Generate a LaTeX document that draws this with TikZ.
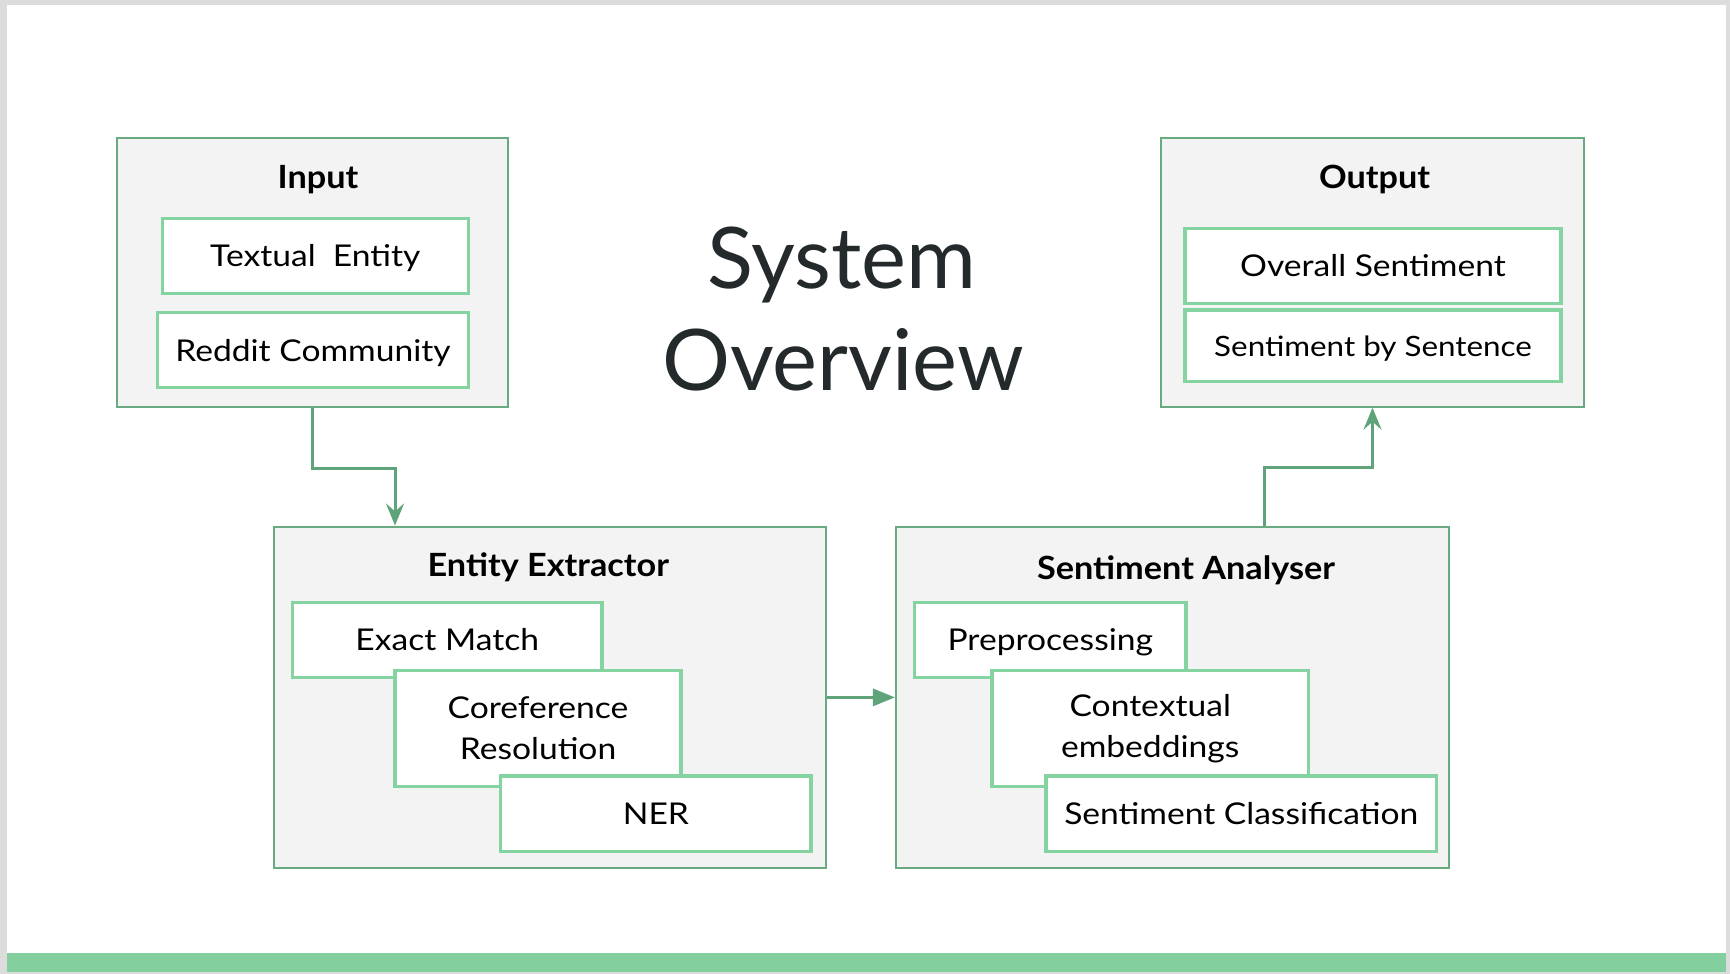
\documentclass[tikz,border=0pt]{standalone}
\usepackage{fontspec}
\setmainfont{Lato}
\newfontfamily\compfont[FakeStretch=1.12]{Lato}
\newfontfamily\paneltitlefont[FakeStretch=1.07]{Lato}
\usetikzlibrary{arrows.meta}
\definecolor{framegray}{HTML}{DCDCDC}
\definecolor{bargreen}{HTML}{83CF9D}
\definecolor{outerline}{HTML}{6AAA80}
\definecolor{innerline}{HTML}{86D3A2}
\definecolor{panelfill}{HTML}{F3F3F3}
\definecolor{arrowgreen}{HTML}{5FA37A}
\definecolor{titlegray}{HTML}{24292B}
\begin{document}
\begin{tikzpicture}[x=1pt,y=-1pt,
  outerbox/.style={draw=outerline,line width=2pt,fill=panelfill,inner sep=0pt},
  comp/.style={draw=innerline,line width=3.4pt,fill=white,inner sep=0pt,align=center,
    font=\compfont\fontsize{30}{41}\selectfont},
  oneline/.style={text height=21.6pt,text depth=0pt},
  paneltitle/.style={anchor=base,inner sep=0pt,font=\paneltitlefont\fontsize{32}{38}\selectfont\bfseries},
  bigtitle/.style={anchor=base,inner sep=0pt,text=titlegray,font=\fontsize{85}{100}\selectfont},
  conn/.style={draw=arrowgreen,line width=3pt},
  barb/.style={-{Stealth[length=22pt,width=18pt,inset=8pt]}},
  tri/.style={-{Triangle[length=22pt,width=17pt]}}
]
\useasboundingbox (0,0) rectangle (1730,974);
\fill[framegray] (0,0) rectangle (1730,974);
\fill[white] (7,5) rectangle (1726,972);
\fill[bargreen] (7,953) rectangle (1726,972);

% Input
\node[outerbox,minimum width=390.7pt,minimum height=268.4pt] (inp) at (312.65,272.5) {};
\node[paneltitle] (inptitle) at (318,188.3) {Input};
\node[comp,oneline,minimum width=306pt,minimum height=75pt] (te) at (315.3,255.8) {Textual\ \ Entity};
\node[comp,oneline,minimum width=310.6pt,minimum height=75pt] (rc) at (313,350.2) {Reddit Community};

% Output
\node[outerbox,minimum width=423.6pt,minimum height=268.4pt] (out) at (1372.5,272.5) {};
\node[paneltitle] (outtitle) at (1374.7,188.3) {Output};
\node[comp,oneline,minimum width=376pt,minimum height=75pt] (os) at (1373,265.9) {Overall Sentiment};
\node[comp,minimum width=376pt,minimum height=71.7pt,font=\compfont\fontsize{28}{34}\selectfont,
  text height=20.2pt,text depth=0pt] (sbs) at (1373,345.9) {Sentiment by Sentence};

% Title
\node[bigtitle] (sys) at (842,288) {System};
\node[bigtitle] (ovw) at (843,390) {Overview};

% Entity Extractor
\node[outerbox,minimum width=552.8pt,minimum height=341.8pt] (ee) at (550,697.4) {};
\node[paneltitle] (eetitle) at (548.3,576.8) {Entity Extractor};
\node[comp,oneline,minimum width=309.6pt,minimum height=74.6pt] (em) at (447.2,640) {Exact Match};
\node[comp,minimum width=286pt,minimum height=116.2pt] (cr) at (538,728.6) {Coreference\\Resolution};
\node[comp,oneline,minimum width=310.3pt,minimum height=75.5pt] (ner) at (655.9,813.7) {NER};

% Sentiment Analyser
\node[outerbox,minimum width=552.7pt,minimum height=341.8pt] (sa) at (1172.3,697.4) {};
\node[paneltitle] (satitle) at (1186,579) {Sentiment Analyser};
\node[comp,oneline,minimum width=271.4pt,minimum height=74.6pt] (pp) at (1050.3,640) {Preprocessing};
\node[comp,minimum width=316.6pt,minimum height=116.2pt] (ce) at (1150.2,728.6) {Contextual\\embeddings};
\node[comp,oneline,minimum width=390.5pt,minimum height=75.5pt] (sc) at (1241.3,813.7) {Sentiment Classification};

% Connectors
\coordinate (a1) at (395,468.3);
\draw[conn,barb] (inp.south) |- (a1) -- (a1 |- ee.north);
\draw[conn,tri] (ee.east) -- (sa.west);
\coordinate (b1) at (1264.3,467.3);
\draw[conn,barb] (b1 |- sa.north) -- (b1) -| (out.south);
\end{tikzpicture}
\end{document}
